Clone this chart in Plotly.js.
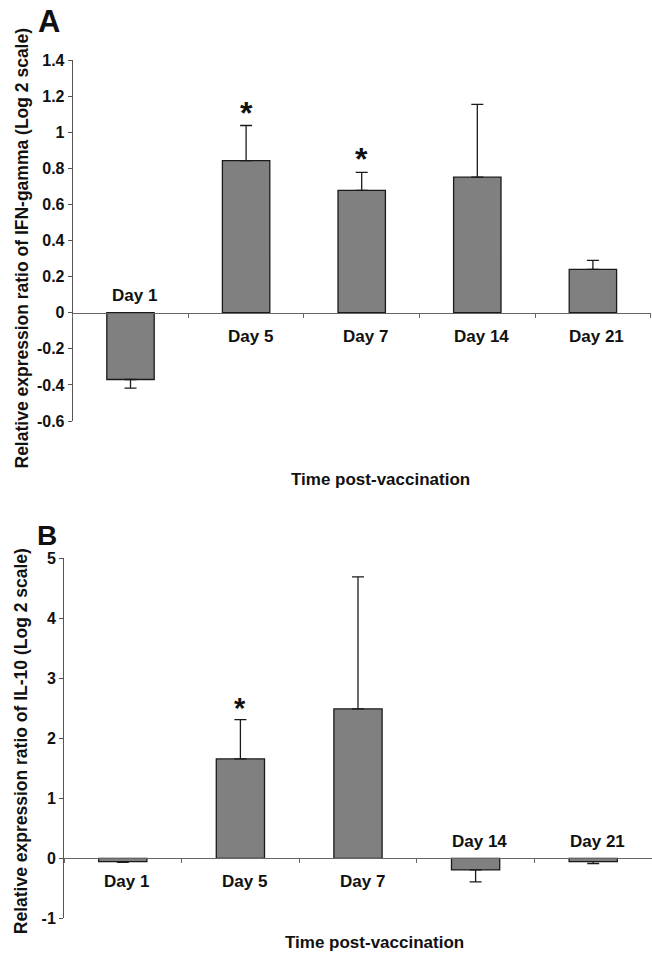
<!DOCTYPE html>
<html>
<head>
<meta charset="utf-8">
<script src="https://cdn.plot.ly/plotly-3.0.1.min.js"></script>
<style>
html,body{margin:0;padding:0;background:#fff;}
#chart{width:652px;height:954px;}
</style>
</head>
<body>
<div id="chart"></div>
<script>
// ---- data ----
const categories = ['Day 1', 'Day 5', 'Day 7', 'Day 14', 'Day 21'];

const ifnValues = [-0.37, 0.843, 0.678, 0.751, 0.240];
const ifnErrors = [0.048, 0.194, 0.099, 0.403, 0.050];
const ifnSignificant = [false, true, true, false, false];
const ifnLabelAbove = [true, false, false, false, false];

const il10Values = [-0.056, 1.656, 2.489, -0.194, -0.056];
const il10Errors = [0.012, 0.655, 2.200, 0.200, 0.033];
const il10Significant = [false, true, false, false, false];
const il10LabelAbove = [false, false, false, true, true];

const ifnTicks = [-0.6, -0.4, -0.2, 0, 0.2, 0.4, 0.6, 0.8, 1, 1.2, 1.4];
const ifnTickText = ['-0.6', '-0.4', '-0.2', '0', '0.2', '0.4', '0.6', '0.8', '1', '1.2', '1.4'];
const il10Ticks = [-1, 0, 1, 2, 3, 4, 5];
const il10TickText = ['-1', '0', '1', '2', '3', '4', '5'];

const ifnRange = [-0.6, 1.4];
const il10Range = [-1, 5];

// ---- style ----
const FONT = '"Liberation Sans", Arial, Helvetica, sans-serif';
const W = 652, H = 954;
const px = x => x / W;
const py = y => 1 - y / H;

const domA = {x: [px(72.7), px(650.7)], y: [py(421), py(60)]};
const domB = {x: [px(64), 1.0], y: [py(918.3), py(558.3)]};

function zeroPos(dom, range) {
  const f = (0 - range[0]) / (range[1] - range[0]);
  return dom.y[0] + f * (dom.y[1] - dom.y[0]);
}

function barTrace(vals, errs, xa, ya) {
  return {
    type: 'bar', x: categories, y: vals, xaxis: xa, yaxis: ya, width: 0.41,
    marker: {color: '#808080', line: {color: '#1a1a1a', width: 1.3}},
    error_y: {
      type: 'data', symmetric: false,
      array: vals.map((v, i) => v >= 0 ? errs[i] : 0),
      arrayminus: vals.map((v, i) => v < 0 ? errs[i] : 0),
      color: '#1a1a1a', thickness: 1.3, width: 6
    },
    hoverinfo: 'none', showlegend: false
  };
}

function xAxis(dom, range) {
  return {
    domain: dom.x, anchor: 'free', position: zeroPos(dom, range),
    type: 'category', showline: true, linecolor: '#666', linewidth: 1,
    ticks: 'outside', tickson: 'boundaries', ticklen: 4, tickcolor: '#666', tickwidth: 1,
    showticklabels: false, showgrid: false, zeroline: false, fixedrange: true
  };
}

function yAxis(dom, range, tv, tt, xname) {
  return {
    domain: dom.y, range: range, anchor: xname,
    showline: true, linecolor: '#555', linewidth: 1,
    ticks: 'outside', ticklen: 4, tickcolor: '#555', tickwidth: 1,
    tickvals: tv, ticktext: tt,
    tickfont: {family: FONT, size: 16, color: '#111', weight: 'bold'},
    showgrid: false, zeroline: false, fixedrange: true
  };
}

const annotations = [];
function catLabels(vals, errs, sig, above, xa, ya, starSize, starShift) {
  vals.forEach((v, i) => {
    annotations.push({
      xref: xa, yref: ya, x: categories[i], y: 0, text: '<b>' + categories[i] + '</b>',
      showarrow: false, xshift: 4, yshift: above[i] ? 17.3 : -23.4,
      font: {family: FONT, size: 17, color: '#111'}
    });
    if (sig[i]) {
      annotations.push({
        xref: xa, yref: ya, x: categories[i], y: v + errs[i], text: '<b>*</b>',
        showarrow: false, yshift: starShift,
        font: {family: FONT, size: starSize, color: '#111'}
      });
    }
  });
}
catLabels(ifnValues, ifnErrors, ifnSignificant, ifnLabelAbove, 'x', 'y', 32, 13);
catLabels(il10Values, il10Errors, il10Significant, il10LabelAbove, 'x2', 'y2', 29, 12);

function freeText(text, x, y, size, angle) {
  annotations.push({
    xref: 'paper', yref: 'paper', x: px(x), y: py(y), xanchor: 'center', yanchor: 'middle',
    text: '<b>' + text + '</b>', showarrow: false, textangle: angle || 0,
    font: {family: FONT, size: size, color: '#111'}
  });
}
freeText('A', 49, 22, 31);
freeText('B', 46.7, 535, 28);
freeText('Relative expression ratio of IFN-gamma (Log 2 scale)', 21, 248.5, 17.5, -90);
freeText('Relative expression ratio of IL-10 (Log 2 scale)', 20.7, 741.5, 17.5, -90);
freeText('Time post-vaccination', 380.7, 479, 17);
freeText('Time post-vaccination', 374.5, 942, 17);

const data = [
  barTrace(ifnValues, ifnErrors, 'x', 'y'),
  barTrace(il10Values, il10Errors, 'x2', 'y2')
];

const layout = {
  width: W, height: H,
  margin: {l: 0, r: 0, t: 0, b: 0, pad: 0},
  paper_bgcolor: '#fff', plot_bgcolor: 'rgba(0,0,0,0)',
  font: {family: FONT, color: '#111'},
  showlegend: false,
  xaxis: xAxis(domA, ifnRange),
  yaxis: yAxis(domA, ifnRange, ifnTicks, ifnTickText, 'x'),
  xaxis2: xAxis(domB, il10Range),
  yaxis2: yAxis(domB, il10Range, il10Ticks, il10TickText, 'x2'),
  annotations: annotations
};

Plotly.newPlot('chart', data, layout, {staticPlot: true, displayModeBar: false});
</script>
</body>
</html>
